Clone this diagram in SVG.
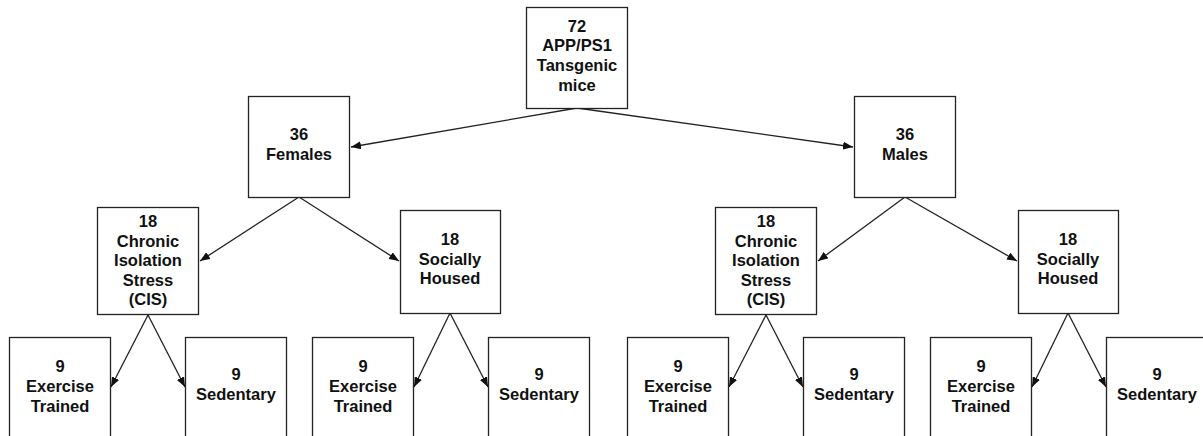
<svg xmlns="http://www.w3.org/2000/svg" width="1203" height="436" viewBox="0 0 1203 436">
<style>
.box{fill:#fff;stroke:#222;stroke-width:1.3}
.t{font-family:"Liberation Sans",Arial,sans-serif;font-weight:bold;font-size:16.5px;fill:#111;text-anchor:middle}
.c{stroke:#222;stroke-width:1.3;fill:none;marker-end:url(#ah)}
</style>
<defs>
<marker id="ah" viewBox="0 0 10 8" refX="10" refY="4" markerWidth="10" markerHeight="8" markerUnits="userSpaceOnUse" orient="auto">
<path d="M0,0 L10,4 L0,8 Z" fill="#111"/>
</marker>
</defs>
<rect width="1203" height="436" fill="#fff"/>
<g id="connectors">
<line class="c" x1="577" y1="108" x2="351" y2="147"/>
<line class="c" x1="577" y1="108" x2="853" y2="147"/>
<line class="c" x1="299" y1="197" x2="200" y2="261"/>
<line class="c" x1="299" y1="197" x2="399" y2="261"/>
<line class="c" x1="905" y1="197" x2="818" y2="261"/>
<line class="c" x1="905" y1="197" x2="1017" y2="261"/>
<line class="c" x1="148" y1="315" x2="111" y2="387"/>
<line class="c" x1="148" y1="315" x2="185" y2="387"/>
<line class="c" x1="450" y1="313" x2="414" y2="387"/>
<line class="c" x1="450" y1="313" x2="488" y2="387"/>
<line class="c" x1="766" y1="315" x2="729" y2="387"/>
<line class="c" x1="766" y1="315" x2="803" y2="387"/>
<line class="c" x1="1068" y1="313" x2="1032" y2="387"/>
<line class="c" x1="1068" y1="313" x2="1106" y2="387"/>
</g>
<g id="n_root">
<rect class="box" x="526.5" y="7.5" width="101" height="101"/>
<text class="t" x="577" y="32">72</text>
<text class="t" x="577" y="51">APP/PS1</text>
<text class="t" x="577" y="71">Tansgenic</text>
<text class="t" x="577" y="91">mice</text>
</g>
<g id="n_females">
<rect class="box" x="248.5" y="96.5" width="101" height="101"/>
<text class="t" x="299" y="140">36</text>
<text class="t" x="299" y="160">Females</text>
</g>
<g id="n_males">
<rect class="box" x="854.5" y="96.5" width="101" height="101"/>
<text class="t" x="905" y="140">36</text>
<text class="t" x="905" y="160">Males</text>
</g>
<g id="n_cis_f">
<rect class="box" x="97.5" y="207.5" width="101" height="107"/>
<text class="t" x="148" y="227">18</text>
<text class="t" x="148" y="247">Chronic</text>
<text class="t" x="148" y="266">Isolation</text>
<text class="t" x="148" y="286">Stress</text>
<text class="t" x="148" y="305">(CIS)</text>
</g>
<g id="n_soc_f">
<rect class="box" x="400.5" y="210.5" width="100" height="103"/>
<text class="t" x="450" y="245">18</text>
<text class="t" x="450" y="265">Socially</text>
<text class="t" x="450" y="284">Housed</text>
</g>
<g id="n_cis_m">
<rect class="box" x="715.5" y="207.5" width="101" height="107"/>
<text class="t" x="766" y="227">18</text>
<text class="t" x="766" y="247">Chronic</text>
<text class="t" x="766" y="266">Isolation</text>
<text class="t" x="766" y="286">Stress</text>
<text class="t" x="766" y="305">(CIS)</text>
</g>
<g id="n_soc_m">
<rect class="box" x="1018.5" y="210.5" width="100" height="103"/>
<text class="t" x="1068" y="245">18</text>
<text class="t" x="1068" y="265">Socially</text>
<text class="t" x="1068" y="284">Housed</text>
</g>
<g id="n_ex1">
<rect class="box" x="9.5" y="337.5" width="101" height="110"/>
<text class="t" x="60" y="372">9</text>
<text class="t" x="60" y="392">Exercise</text>
<text class="t" x="60" y="412">Trained</text>
</g>
<g id="n_sed1">
<rect class="box" x="185.5" y="337.5" width="101" height="110"/>
<text class="t" x="236" y="380">9</text>
<text class="t" x="236" y="400">Sedentary</text>
</g>
<g id="n_ex2">
<rect class="box" x="312.5" y="337.5" width="101" height="110"/>
<text class="t" x="363" y="372">9</text>
<text class="t" x="363" y="392">Exercise</text>
<text class="t" x="363" y="412">Trained</text>
</g>
<g id="n_sed2">
<rect class="box" x="488.5" y="337.5" width="101" height="110"/>
<text class="t" x="539" y="380">9</text>
<text class="t" x="539" y="400">Sedentary</text>
</g>
<g id="n_ex3">
<rect class="box" x="627.5" y="337.5" width="101" height="110"/>
<text class="t" x="678" y="372">9</text>
<text class="t" x="678" y="392">Exercise</text>
<text class="t" x="678" y="412">Trained</text>
</g>
<g id="n_sed3">
<rect class="box" x="803.5" y="337.5" width="101" height="110"/>
<text class="t" x="854" y="380">9</text>
<text class="t" x="854" y="400">Sedentary</text>
</g>
<g id="n_ex4">
<rect class="box" x="930.5" y="337.5" width="101" height="110"/>
<text class="t" x="981" y="372">9</text>
<text class="t" x="981" y="392">Exercise</text>
<text class="t" x="981" y="412">Trained</text>
</g>
<g id="n_sed4">
<rect class="box" x="1106.5" y="337.5" width="101" height="110"/>
<text class="t" x="1157" y="380">9</text>
<text class="t" x="1157" y="400">Sedentary</text>
</g>
</svg>
